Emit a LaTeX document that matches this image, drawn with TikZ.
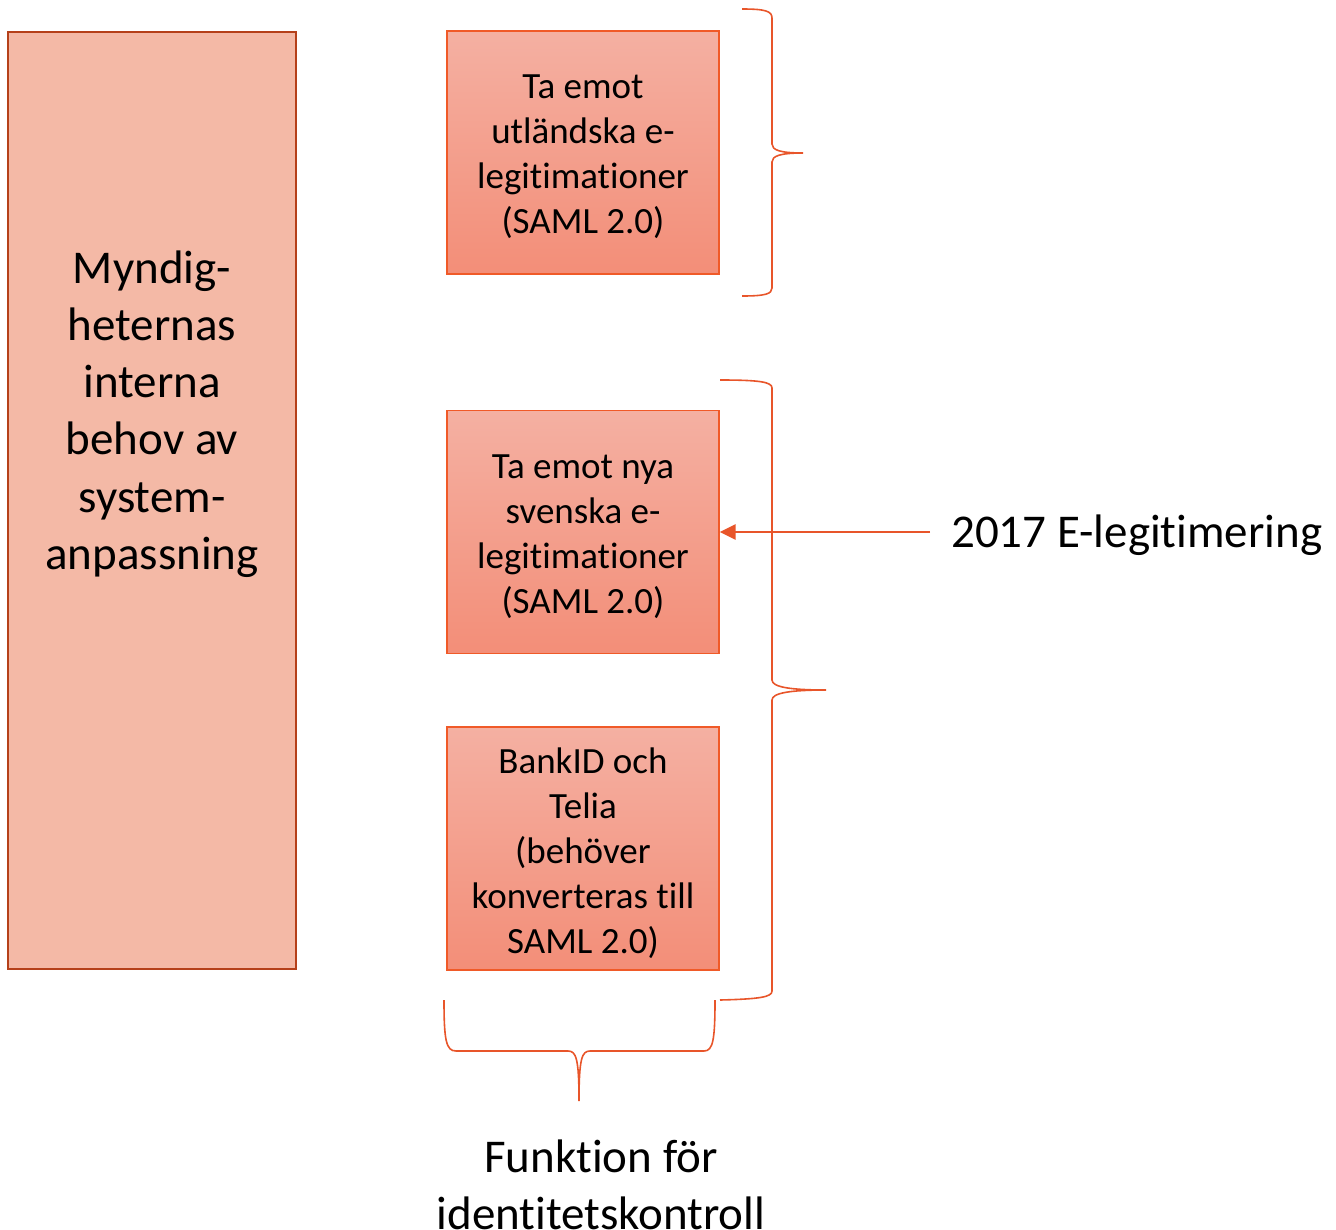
\documentclass[tikz,border=0pt]{standalone}
\usepackage{fontspec}
\setmainfont{Carlito}[RawFeature={-liga;-clig;-calt;-dlig}]
\usetikzlibrary{arrows.meta}
\definecolor{lbfill}{HTML}{F4B9A6}
\definecolor{lbdraw}{HTML}{B5401A}
\definecolor{btop}{HTML}{F4B0A2}
\definecolor{bbot}{HTML}{F38E78}
\definecolor{bdraw}{HTML}{F05A28}
\definecolor{line}{HTML}{E8552A}
\tikzset{
  bigbox/.style={draw=lbdraw, line width=2.5pt, fill=lbfill, minimum width=288, minimum height=937, inner sep=0},
  smallbox/.style={draw=bdraw, line width=1.3pt, top color=btop, bottom color=bbot, minimum width=272, minimum height=243, inner sep=0},
  boxtext/.style={align=center, font=\fontsize{37}{45}\selectfont},
  bigtext/.style={align=center, font=\fontsize{47}{57.3}\selectfont},
  brace/.style={draw=line, line width=1.6pt},
}
\begin{document}
\begin{tikzpicture}[x=1pt,y=-1pt]
\useasboundingbox (0,0) rectangle (1336,1229);
\node[bigbox] (lb) at (152,500.5) {};
\node[bigtext] (lt) at (152,414) {Myndig-\\heternas\\interna\\behov av\\system-\\anpassning};
\node[smallbox] (b1) at (583,152.5) {};
\node[smallbox] (b2) at (583,532) {};
\node[smallbox] (b3) at (583,848.5) {};
\node[boxtext] (t1) at (583,157) {Ta emot\\utländska e-\\legitimationer\\(SAML 2.0)};
\node[boxtext] (t2) at (583,537) {Ta emot nya\\svenska e-\\legitimationer\\(SAML 2.0)};
\node[boxtext] (t3) at (583,853) {BankID och\\Telia\\(behöver\\konverteras till\\SAML 2.0)};
\node[bigtext, anchor=west, inner sep=0] (lbl) at (951,535) {2017 E-legitimering};
\node[bigtext] (fk) at (601,1185) {Funktion för\\identitetskontroll};
\coordinate (as) at (930,532);
\draw[draw=line, line width=2.4pt, -{Triangle[length=16pt,width=15pt]}] (as) -- (b2.east);
% brace 1
\draw[brace] (742,9) .. controls (765,9) and (772,11) .. (772,18) -- (772,144)
  .. controls (772,150) and (780,153) .. (803,153)
  .. controls (780,153) and (772,156) .. (772,162) -- (772,288)
  .. controls (772,294) and (765,296) .. (742,296);
% brace 2
\draw[brace] (720,380) .. controls (760,380) and (772,382) .. (772,388) -- (772,680)
  .. controls (772,687) and (790,690) .. (826,690)
  .. controls (790,690) and (772,693) .. (772,700) -- (772,991)
  .. controls (772,997) and (760,999) .. (720,1000);
% bottom brace
\draw[brace] (444,1000) .. controls (444,1040) and (446,1051) .. (456,1051) -- (568,1051)
  .. controls (576,1051) and (579,1058) .. (579,1101)
  .. controls (579,1058) and (582,1051) .. (590,1051) -- (704,1051)
  .. controls (713,1051) and (715,1040) .. (715,1000);
\end{tikzpicture}
\end{document}
